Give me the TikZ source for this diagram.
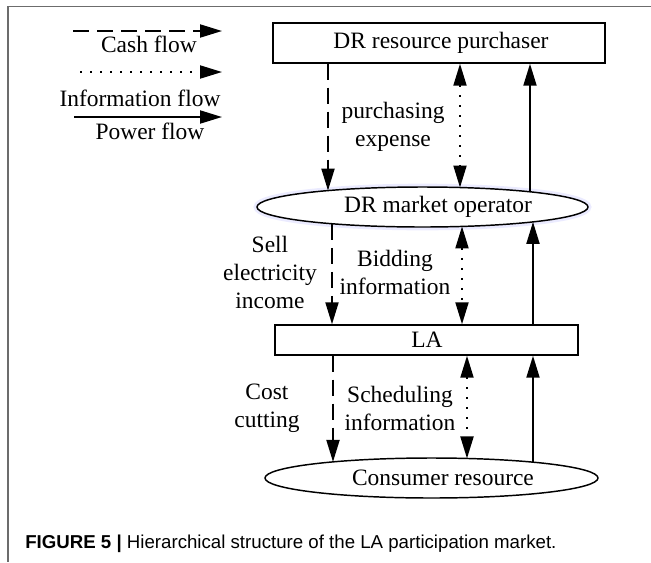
\documentclass[tikz,border=0pt]{standalone}
\usepackage{fontspec}
\setmainfont{Liberation Serif}
\newfontfamily\capfont{Liberation Sans}
\usetikzlibrary{arrows.meta,shapes.geometric,calc}
\begin{document}
\begin{tikzpicture}[x=0.75pt,y=-0.75pt,
  font=\fontsize{17.6}{21}\selectfont,
  box/.style={draw,line width=1.1pt,inner sep=0pt},
  oval/.style={draw,ellipse,line width=1.1pt,inner sep=0pt},
  flow/.style={line width=1.5pt},
  cash/.style={flow,dash pattern=on 12pt off 6pt,-{Triangle[length=16.5pt,width=9.75pt]}},
  info/.style={flow,dash pattern=on 1.5pt off 6pt,{Triangle[length=16.5pt,width=9.75pt]}-{Triangle[length=16.5pt,width=9.75pt]}},
  infoleg/.style={flow,dash pattern=on 1.5pt off 6pt,-{Triangle[length=16.5pt,width=9.75pt]}},
  power/.style={flow,-{Triangle[length=16.5pt,width=9.75pt]}},
  lbl/.style={align=center,inner sep=0pt}]
\useasboundingbox (0,0) rectangle (651,562);

% frame lines
\draw[gray!85!black,line width=1.2pt] (651,6.5) -- (8,6.5) -- (8,562);

% legend
\coordinate (cs) at (73,31);  \coordinate (ce) at (222,31);
\coordinate (is) at (80,72);  \coordinate (ie) at (222,72);
\coordinate (ps) at (74,117); \coordinate (pe) at (222,117);
\draw[cash] (cs) -- (ce);
\draw[infoleg] (is) -- (ie);
\draw[power] (ps) -- (pe);
\node[anchor=base,inner sep=0pt] (lcash) at (149,52) {Cash flow};
\node[anchor=base,inner sep=0pt] (linfo) at (140,106) {Information flow};
\node[anchor=base,inner sep=0pt] (lpower) at (150,139) {Power flow};

% hierarchy blocks
\node[box,minimum width=249pt,minimum height=30pt] (buyer) at (439,43) {};
\node (buyertxt) at (441,43) {DR resource purchaser};
% faint halo round the operator oval
\node[ellipse,draw=blue!8,line width=5pt,minimum width=248.25pt,minimum height=30pt,inner sep=0pt] (ophalo) at (422.5,207) {};
\node[oval,fill=white,minimum width=248.25pt,minimum height=30pt] (op) at (422.5,207) {};
\node (optxt) at (438,207) {DR market operator};
\node[box,minimum width=227.25pt,minimum height=22.5pt] (la) at (426.5,340) {};
\node (latxt) at (427,340) {LA};
\node[oval,minimum width=249.75pt,minimum height=30pt] (cons) at (431.5,478) {};
\node (constxt) at (443,478) {Consumer resource};

% line positions
\coordinate (x1c) at (328,0); \coordinate (x1i) at (460,0); \coordinate (x1p) at (530,0);
\coordinate (x2c) at (332,0); \coordinate (x2i) at (462,0); \coordinate (x2p) at (533,0);
\coordinate (x3c) at (333,0); \coordinate (x3i) at (467,0); \coordinate (x3p) at (533,0);

% points on the oval borders
\coordinate (opTc) at ($(op.center)+(-94.5,{-20*sqrt(1-(94.5/165.5)^2)})$);
\coordinate (opTi) at ($(op.center)+(37.5,{-20*sqrt(1-(37.5/165.5)^2)})$);
\coordinate (opTp) at ($(op.center)+(107.5,{-20*sqrt(1-(107.5/165.5)^2)})$);
\coordinate (opBc) at ($(op.center)+(-90.5,{20*sqrt(1-(90.5/165.5)^2)})$);
\coordinate (opBi) at ($(op.center)+(39.5,{20*sqrt(1-(39.5/165.5)^2)})$);
\coordinate (opBp) at ($(op.center)+(110.5,{20*sqrt(1-(110.5/165.5)^2)})$);
\coordinate (coTc) at ($(cons.center)+(-98.5,{-20*sqrt(1-(98.5/166.5)^2)})$);
\coordinate (coTi) at ($(cons.center)+(35.5,{-20*sqrt(1-(35.5/166.5)^2)})$);
\coordinate (coTp) at ($(cons.center)+(101.5,{-20*sqrt(1-(101.5/166.5)^2)})$);

% purchaser <-> operator
\draw[cash] (buyer.south -| x1c) -- (opTc);
\draw[info] (buyer.south -| x1i) -- (opTi);
\draw[power] (opTp) -- (buyer.south -| x1p);
% operator <-> LA
\draw[cash] (opBc) -- (la.north -| x2c);
\draw[info] (opBi) -- (la.north -| x2i);
\draw[power] (la.north -| x2p) -- (opBp);
% LA <-> consumers
\draw[cash] (la.south -| x3c) -- (coTc);
\draw[info] (la.south -| x3i) -- (coTi);
\draw[power] (coTp) -- (la.south -| x3p);

% flow labels
\node[lbl] (t1) at (393,127) {purchasing\\expense};
\node[lbl] (t2) at (270,272) {Sell\\electricity\\income};
\node[lbl] (t3) at (395,272) {Bidding\\information};
\node[lbl] (t4) at (267,408) {Cost\\cutting};
\node[lbl] (t5) at (400,408) {Scheduling\\information};

% caption
\node[anchor=base west,inner sep=0pt,font=\capfont\fontsize{14}{16}\selectfont] (cap) at (25,548)
  {\textbf{FIGURE 5 |} Hierarchical structure of the LA participation market.};
\end{tikzpicture}
\end{document}
